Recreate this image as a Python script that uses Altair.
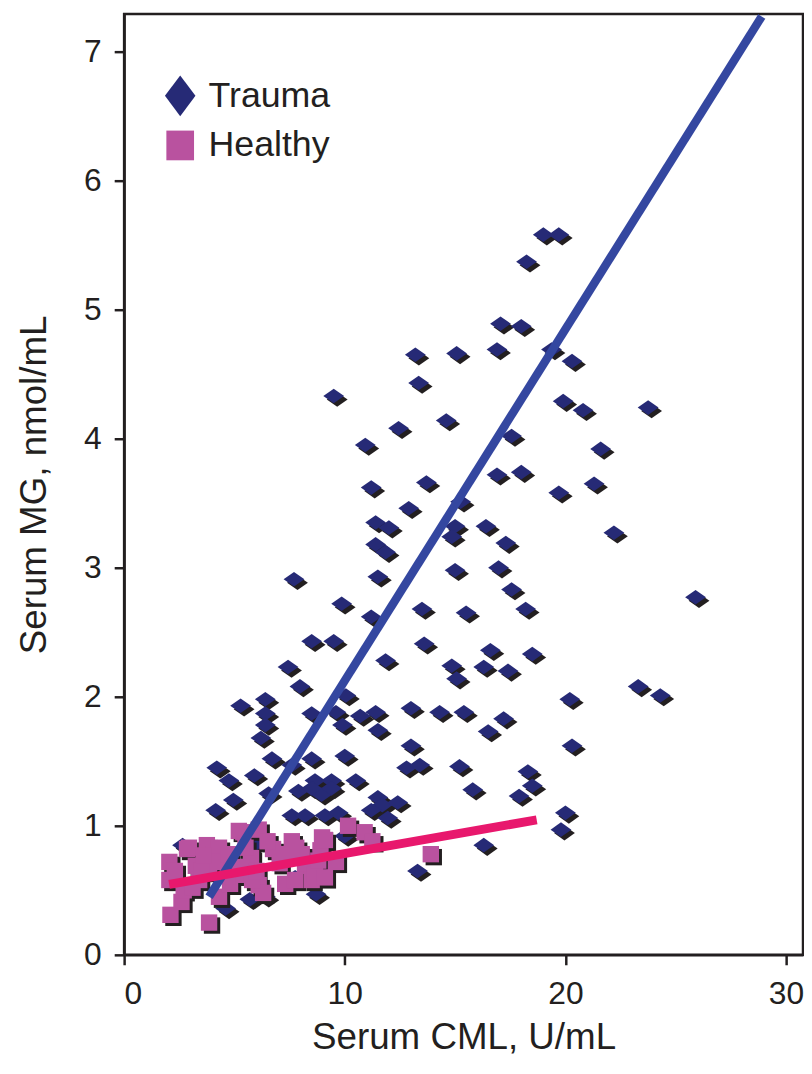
import altair as alt
import pandas as pd

# ---- data ----
trauma_x = [19.0, 19.7, 18.24, 17.06, 18.0, 13.2, 15.07, 16.9, 19.37, 20.3,
            13.35, 9.5, 19.9, 20.8, 23.75, 12.44, 14.6, 10.93, 17.56, 21.6,
            11.2, 13.7, 16.9, 18.0, 19.7, 21.3, 12.9, 15.25, 11.4, 12.0,
            15.0, 16.4, 11.4, 11.85, 14.85, 17.3, 22.2, 7.7, 11.5, 15.0,
            16.97, 17.56, 18.2, 9.86, 11.2, 13.5, 15.5, 25.9, 8.5, 9.5,
            13.6, 16.6, 18.5, 14.85, 15.07, 16.3, 17.4, 23.3, 24.3, 20.2,
            13.0, 14.3, 15.4, 17.2, 16.5, 13.0, 20.3, 12.8, 13.4, 15.2,
            18.3, 15.8, 18.5, 17.9, 20.0, 19.8, 16.3, 13.3, 7.43, 7.97,
            11.85, 10.05, 5.28, 6.4, 6.4, 6.4, 8.5, 9.6, 10.7, 11.4,
            9.9, 11.5, 6.2, 6.7, 7.6, 8.5, 10.0, 4.2, 5.9, 4.75,
            8.65, 9.4, 10.5, 4.95, 6.55, 7.9, 8.95, 11.5, 11.7, 4.15,
            7.6, 8.2, 9.1, 9.7, 11.2, 11.95, 8.5, 9.4, 2.65, 5.95,
            8.2, 7.75, 8.7, 5.7, 4.6, 10.0, 6.4, 12.4]
trauma_y = [5.58, 5.58, 5.37, 4.89, 4.87, 4.65, 4.66, 4.69, 4.69, 4.6,
            4.43, 4.33, 4.29, 4.22, 4.24, 4.08, 4.14, 3.95, 4.02, 3.92,
            3.62, 3.66, 3.72, 3.74, 3.58, 3.65, 3.46, 3.51, 3.35, 3.31,
            3.32, 3.32, 3.18, 3.12, 3.24, 3.19, 3.27, 2.91, 2.93, 2.98,
            3.0, 2.83, 2.68, 2.72, 2.62, 2.68, 2.65, 2.77, 2.43, 2.43,
            2.41, 2.36, 2.33, 2.24, 2.14, 2.23, 2.2, 2.08, 2.01, 1.98,
            1.91, 1.88, 1.88, 1.83, 1.73, 1.62, 1.62, 1.45, 1.47, 1.46,
            1.42, 1.28, 1.31, 1.23, 1.1, 0.97, 0.85, 0.65, 2.23, 2.08,
            2.28, 2.01, 1.93, 1.98, 1.87, 1.78, 1.87, 1.88, 1.85, 1.88,
            1.78, 1.74, 1.68, 1.52, 1.47, 1.52, 1.54, 1.45, 1.39, 1.35,
            1.35, 1.35, 1.35, 1.2, 1.25, 1.27, 1.24, 1.22, 1.16, 1.12,
            1.08, 1.08, 1.08, 1.1, 1.12, 1.06, 1.29, 1.29, 0.85, 0.86,
            0.79, 0.6, 0.47, 0.43, 0.36, 0.92, 0.45, 1.18]

healthy_x = [5.4, 6.1, 2.05, 2.05, 2.1, 3.85, 2.6, 2.7, 2.85, 3.75,
             4.05, 3.25, 3.85, 4.6, 4.3, 4.8, 5.4, 5.75, 6.1, 6.3,
             6.75, 7.05, 7.3, 7.8, 8.2, 8.5, 8.9, 9.1, 8.65, 10.15,
             10.9, 11.25, 6.5, 7.75, 4.7, 3.4, 13.9, 2.3, 2.94, 4.3,
             4.15, 3.1, 3.5, 4.75, 5.2, 5.5, 5.2, 5.8, 7.6, 8.05,
             8.8, 8.97, 9.1, 6.0, 7.4, 9.6, 3.6]
healthy_y = [0.95, 0.97, 0.72, 0.58, 0.31, 0.25, 0.41, 0.5, 0.82, 0.85,
             0.78, 0.69, 0.65, 0.75, 0.45, 0.55, 0.62, 0.75, 0.54, 0.48,
             0.82, 0.71, 0.55, 0.83, 0.69, 0.58, 0.81, 0.89, 0.62, 1.0,
             0.95, 0.88, 0.88, 0.58, 0.68, 0.58, 0.78, 0.65, 0.83, 0.83,
             0.72, 0.52, 0.65, 0.78, 0.96, 0.83, 0.68, 0.58, 0.88, 0.78,
             0.73, 0.91, 0.6, 0.65, 0.78, 0.72, 0.77]

trauma_fit_x = [3.85, 28.9]
trauma_fit_y = [0.45, 7.27]
healthy_fit_x = [2.04, 18.7]
healthy_fit_y = [0.546, 1.046]

groups = ["Trauma", "Healthy"]

# ---- styling ----
NAVY = "#262a76"
PINK = "#b9529f"
SHADOW = "#231f20"
BLUE_LINE = "#3447a0"
PINK_LINE = "#e8186d"
FONT = "Liberation Sans"
WIDE_DIAMOND = "M-1,0L0,-0.7L1,0L0,0.7Z"
TALL_DIAMOND = "M0,-1L0.75,0L0,1L-0.75,0Z"
LEGEND_SQUARE = "M-0.68,-0.73L0.68,-0.73L0.68,0.73L-0.68,0.73Z"

trauma = pd.DataFrame({"x": trauma_x, "y": trauma_y})
healthy = pd.DataFrame({"x": healthy_x, "y": healthy_y})
tfit = pd.DataFrame({"x": trauma_fit_x, "y": trauma_fit_y})
hfit = pd.DataFrame({"x": healthy_fit_x, "y": healthy_fit_y})
legend_df = pd.DataFrame({"x": [trauma_x[0], healthy_x[0]],
                          "y": [trauma_y[0], healthy_y[0]],
                          "group": groups})

xscale = alt.Scale(domain=[0, 30.77], nice=False, zero=False)
yscale = alt.Scale(domain=[0, 7.29], nice=False, zero=False)

X = alt.X("x:Q", scale=xscale,
          axis=alt.Axis(values=[0, 10, 20, 30], title="Serum CML, U/mL",
                        labelPadding=14, titlePadding=10))
Y = alt.Y("y:Q", scale=yscale,
          axis=alt.Axis(values=[0, 1, 2, 3, 4, 5, 6, 7], title="Serum MG, nmol/mL",
                        labelPadding=13, titlePadding=30))

t_shadow = alt.Chart(trauma).mark_point(
    shape=WIDE_DIAMOND, filled=True, fill=SHADOW, opacity=1, size=440,
    xOffset=3.5, yOffset=3.5, strokeWidth=0).encode(x=X, y=Y)
t_pts = alt.Chart(trauma).mark_point(
    shape=WIDE_DIAMOND, filled=True, fill=NAVY, opacity=1, size=440,
    strokeWidth=0).encode(x=X, y=Y)
h_shadow = alt.Chart(healthy).mark_point(
    shape="square", filled=True, fill=SHADOW, opacity=1, size=272,
    xOffset=3, yOffset=3, strokeWidth=0).encode(x=X, y=Y)
h_pts = alt.Chart(healthy).mark_point(
    shape="square", filled=True, fill=PINK, opacity=1, size=272,
    strokeWidth=0).encode(x=X, y=Y)
t_line = alt.Chart(tfit).mark_line(color=BLUE_LINE, strokeWidth=8.5, clip=True).encode(x=X, y=Y)
h_line = alt.Chart(hfit).mark_line(color=PINK_LINE, strokeWidth=9, clip=True).encode(x=X, y=Y)

leg = alt.Legend(title=None, orient="none", legendX=36, legendY=62,
                 symbolSize=1681, symbolStrokeWidth=0,
                 labelFontSize=36, labelFont=FONT,
                 labelColor="#231f20", labelOffset=8,
                 rowPadding=9, padding=0)

legend_layer = alt.Chart(legend_df).mark_point(filled=True, size=0, opacity=1).encode(
    x=X, y=Y,
    shape=alt.Shape("group:N",
                    scale=alt.Scale(domain=groups, range=[TALL_DIAMOND, LEGEND_SQUARE]),
                    legend=leg),
    color=alt.Color("group:N",
                    scale=alt.Scale(domain=groups, range=[NAVY, PINK]),
                    legend=leg),
)

chart = alt.layer(t_shadow, t_pts, h_shadow, h_pts, t_line, h_line, legend_layer).properties(
    width=684, height=948,
    padding={"left": 8, "top": 2, "right": 0, "bottom": 5},
    background="white",
).configure_view(
    stroke="#231f20", strokeWidth=2.5
).configure_axis(
    grid=False, domainColor="#231f20", domainWidth=2.5,
    tickColor="#231f20", tickWidth=2.5, tickSize=10,
    labelFont=FONT, labelFontSize=32, labelColor="#231f20",
    titleFont=FONT, titleFontSize=37, titleFontWeight="normal", titleColor="#231f20",
)

chart.save("out.html", embed_options={"renderer": "svg", "actions": False})
